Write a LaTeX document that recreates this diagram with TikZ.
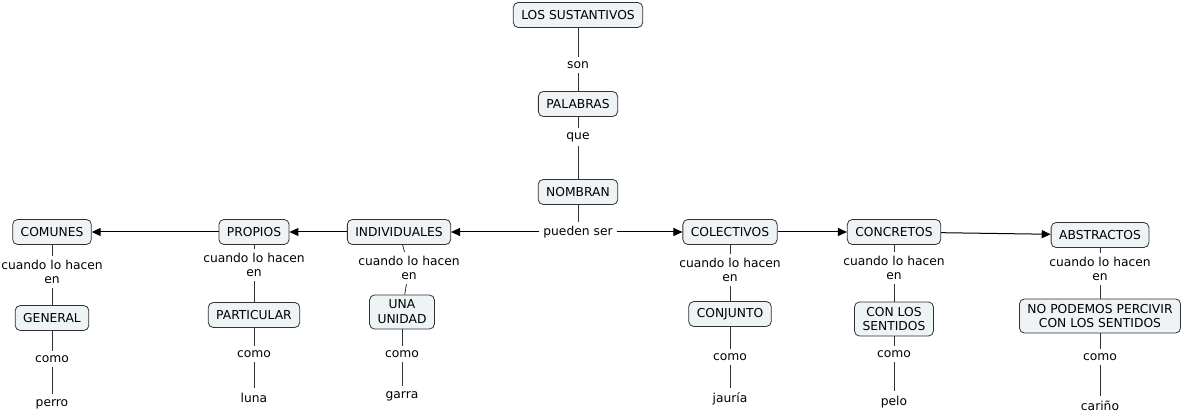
\documentclass[tikz,border=0pt]{standalone}
\usepackage{fontspec}
\setmainfont{DejaVu Sans}
\usepackage{tikz}
\usetikzlibrary{arrows.meta, positioning}
\definecolor{cmapfill}{RGB}{238,243,245}
\definecolor{cmapline}{RGB}{50,50,50}

\begin{document}
\begin{tikzpicture}[
                x = 1pt, y = -1pt,
                > = {Triangle[length=9pt, width=8pt]}, % arrow head style
                on grid,
                line width=0.8pt, % line style
                font=\fontsize{12.3}{14.8}\selectfont
                ]
                \tikzstyle{concept}=[
                    draw = cmapline,
                    fill = cmapfill,
                    rounded corners = 5pt,
                    align = center,
                    inner xsep = 8pt,
                    inner ysep = 5pt,
                    minimum height = 25pt,
                ]
                \tikzstyle{link}=[
                    align = center,
                    inner sep = 1pt,
                    outer sep = 3pt,
                ]
                \tikzstyle{leaf}=[
                    inner sep = 2pt,
                    outer sep = 3pt,
                ]
                \useasboundingbox (0,0) rectangle (1186,419);

                % top of the map
                \node[concept] (sust) at (578,15) {LOS SUSTANTIVOS};
                \node[link] (son) [below=50pt of sust] {son};
                \node[concept] (pal) [below=39pt of son] {PALABRAS};
                \node[link] (que) [below=33pt of pal] {que};
                \node[concept] (nom) [below=55pt of que] {NOMBRAN};
                \node[link] (pueden) [below=40pt of nom] {pueden ser};

                % main row
                \node[concept] (indiv) [left=179pt of pueden] {INDIVIDUALES};
                \node[concept] (prop) [left=145pt of indiv] {PROPIOS};
                \node[concept] (comun) [left=202pt of prop] {COMUNES};
                \node[concept] (colec) [right=152pt of pueden] {COLECTIVOS};
                \node[concept] (concr) [right=164pt of colec] {CONCRETOS};
                \node[concept] (abstr) [below right=3pt and 206pt of concr] {ABSTRACTOS};

                % COMUNES
                \node[link] (c1) [below=40pt of comun] {cuando lo hacen\\en};
                \node[concept] (gen) [below=46pt of c1] {GENERAL};
                \node[link] (como1) [below=41pt of gen] {como};
                \node[leaf] (perro) [below=45pt of como1] {perro};

                % PROPIOS
                \node[link] (c2) [below=33pt of prop] {cuando lo hacen\\en};
                \node[concept] (part) [below=50pt of c2] {PARTICULAR};
                \node[link] (como2) [below=39pt of part] {como};
                \node[leaf] (luna) [below=44pt of como2] {luna};

                % INDIVIDUALES
                \node[link] (c3) [below right=36pt and 10pt of indiv] {cuando lo hacen\\en};
                \node[concept] (unid) [below left=44pt and 7pt of c3] {UNA\\UNIDAD};
                \node[link] (como3) [below=42pt of unid] {como};
                \node[leaf] (garra) [below=42pt of como3] {garra};

                % COLECTIVOS
                \node[link] (c4) [below=38pt of colec] {cuando lo hacen\\en};
                \node[concept] (conj) [below=44pt of c4] {CONJUNTO};
                \node[link] (como4) [below=43pt of conj] {como};
                \node[leaf] (jauria) [below=42pt of como4] {jauría};

                % CONCRETOS
                \node[link] (c5) [below=36pt of concr] {cuando lo hacen\\en};
                \node[concept] (sent) [below=51pt of c5] {CON LOS\\SENTIDOS};
                \node[link] (como5) [below=35pt of sent] {como};
                \node[leaf] (pelo) [below=48pt of como5] {pelo};

                % ABSTRACTOS
                \node[link] (c6) [below=34pt of abstr] {cuando lo hacen\\en};
                \node[concept] (perc) [below=47pt of c6] {NO PODEMOS PERCIVIR\\CON LOS SENTIDOS};
                \node[link] (como6) [below=41pt of perc] {como};
                \node[leaf] (carino) [below=49pt of como6] {cariño};

                % plain links
                \path[draw=cmapline]
                    (sust) -- (son) (son) -- (pal)
                    (pal) -- (que) (que) -- (nom)
                    (nom) -- (pueden);
                \foreach \top/\mid/\low/\como/\leaf in {
                    comun/c1/gen/como1/perro,
                    prop/c2/part/como2/luna,
                    indiv/c3/unid/como3/garra,
                    colec/c4/conj/como4/jauria,
                    concr/c5/sent/como5/pelo,
                    abstr/c6/perc/como6/carino}
                {
                    \draw[cmapline] (\top) -- (\mid);
                    \draw[cmapline] (\mid) -- (\low);
                    \draw[cmapline] (\low) -- (\como);
                    \draw[cmapline] (\como) -- (\leaf);
                }

                % arrows along the row
                \path[->, line width=1pt] (pueden) edge (indiv)
                    (pueden) edge (colec)
                    (indiv) edge (prop)
                    (prop) edge (comun)
                    (colec) edge (concr)
                    (concr) edge (abstr);
            \end{tikzpicture}
\end{document}
